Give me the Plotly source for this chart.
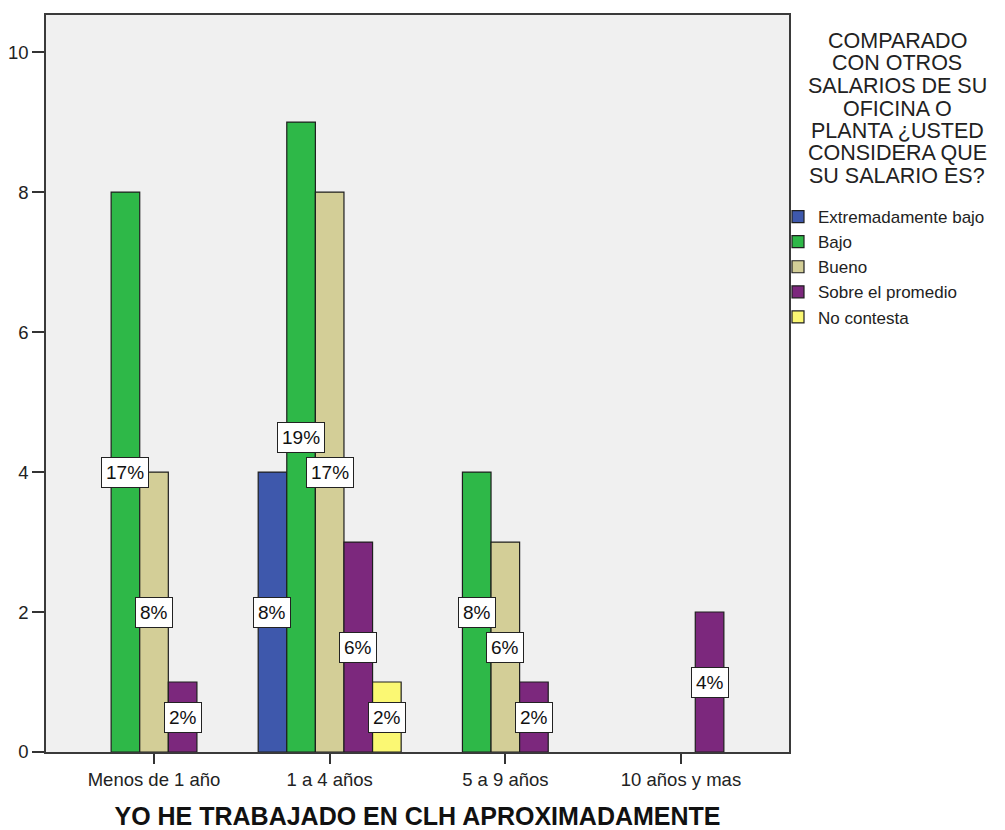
import plotly.graph_objects as go

# Categories on the horizontal axis
categorias = ["Menos de 1 año", "1 a 4 años", "5 a 9 años", "10 años y mas"]

# Counts for each answer group (None = no respondents in that bin)
extremadamente_bajo = [None, 4, None, None]
bajo = [8, 9, 4, None]
bueno = [4, 8, 3, None]
sobre_el_promedio = [1, 3, 1, 2]
no_contesta = [None, 1, None, None]

series_nombres = ["Extremadamente bajo", "Bajo", "Bueno", "Sobre el promedio", "No contesta"]
series_valores = [extremadamente_bajo, bajo, bueno, sobre_el_promedio, no_contesta]
series_colores = ["#3E58AC", "#2EB848", "#D3CE97", "#7C287D", "#FBF873"]

titulo_leyenda = [
    "COMPARADO",
    "CON OTROS",
    "SALARIOS DE SU",
    "OFICINA O",
    "PLANTA ¿USTED",
    "CONSIDERA QUE",
    "SU SALARIO ES?",
]
titulo_x = "YO HE TRABAJADO EN CLH APROXIMADAMENTE"

FONT = "Liberation Sans, Arial, sans-serif"
BARGAP = 0.186
n_series = len(series_nombres)
ancho_barra = (1 - BARGAP) / n_series

x_pos = list(range(len(categorias)))
total = sum(v for serie in series_valores for v in serie if v is not None)

fig = go.Figure()
for nombre, valores, color in zip(series_nombres, series_valores, series_colores):
    fig.add_trace(go.Bar(
        x=x_pos,
        y=valores,
        name=nombre,
        marker=dict(color=color, line=dict(color="#1e1e1e", width=1.2)),
        hoverinfo="skip",
    ))

# Percentage labels centred on each bar
annotations = []
for s, valores in enumerate(series_valores):
    offset = (s - (n_series - 1) / 2) * ancho_barra
    for i, v in enumerate(valores):
        if v is None:
            continue
        annotations.append(dict(
            x=x_pos[i] + offset, y=v / 2, xref="x", yref="y",
            text=f"{round(100 * v / total)}%", showarrow=False,
            font=dict(family=FONT, size=19, color="#111111"),
            bgcolor="white", bordercolor="#222222", borderwidth=1, borderpad=4,
        ))

# Page and plot-area geometry in pixels
W, H = 1005, 830
ML, MR, MT, MB = 46, W - 789, 15, H - 752
pw, ph = W - ML - MR, H - MT - MB

# Legend heading, one line at a time to keep the tight line spacing
for k, linea in enumerate(titulo_leyenda):
    annotations.append(dict(
        x=(897 - ML) / pw, y=1 - (41 + k * 22.5 - MT) / ph,
        xref="paper", yref="paper",
        text=linea, showarrow=False, xanchor="center", yanchor="middle",
        font=dict(family=FONT, size=21.5, color="#222222"),
    ))

fig.update_layout(
    width=W, height=H,
    margin=dict(l=ML, r=MR, t=MT, b=MB, autoexpand=False),
    paper_bgcolor="white",
    plot_bgcolor="#F0F0F0",
    barmode="group",
    bargap=BARGAP,
    bargroupgap=0,
    font=dict(family=FONT, size=18.5, color="#222222"),
    annotations=annotations,
    showlegend=True,
    legend=dict(
        x=(778 - ML) / pw, xanchor="left",
        y=1 - (199 - MT) / ph, yanchor="top",
        font=dict(family=FONT, size=17, color="#222222"),
        bgcolor="rgba(0,0,0,0)", borderwidth=0,
        tracegroupgap=0, itemwidth=30,
    ),
    xaxis=dict(
        range=[-0.615, 3.615],
        tickvals=x_pos, ticktext=categorias,
        ticks="outside", ticklen=10, tickwidth=1.5, tickcolor="#333333",
        showline=True, linecolor="#3a3a3a", linewidth=1.5, mirror=True,
        showgrid=False, zeroline=False, automargin=False,
        tickfont=dict(family=FONT, size=18.5, color="#222222"),
        title=dict(text=f"<b>{titulo_x}</b>", standoff=28,
                   font=dict(family=FONT, size=25, color="#111111")),
    ),
    yaxis=dict(
        range=[0, 10.53],
        tickvals=[0, 2, 4, 6, 8, 10],
        ticks="outside", ticklen=12, tickwidth=1.5, tickcolor="#333333",
        showline=True, linecolor="#3a3a3a", linewidth=1.5, mirror=True,
        showgrid=False, zeroline=False, automargin=False,
        tickfont=dict(family=FONT, size=18.5, color="#222222"),
    ),
)

fig.write_html("out.html")
